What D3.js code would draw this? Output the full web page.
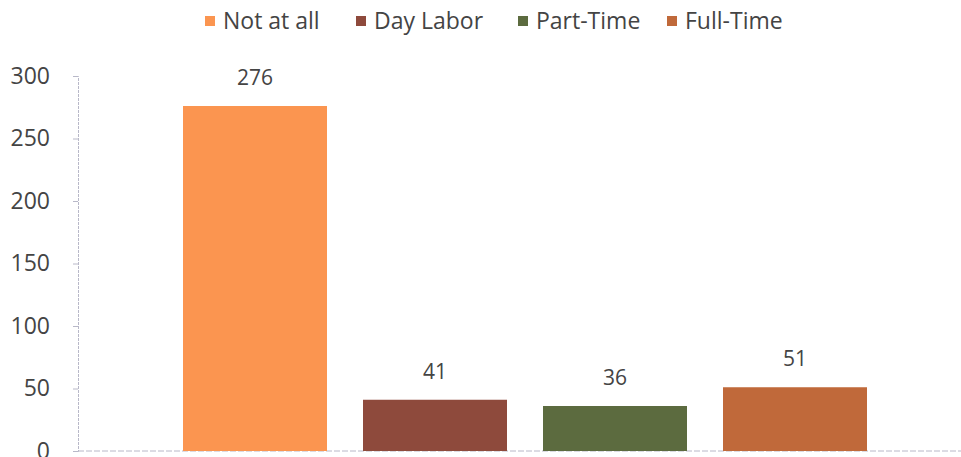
<!DOCTYPE html>
<html>
<head>
<meta charset="utf-8">
<script src="https://cdn.jsdelivr.net/npm/d3@7"></script>
<style>
  body { margin: 0; background: #fff; }
  svg { display: block; font-family: "Open Sans", "Noto Sans", sans-serif; }
</style>
</head>
<body>
<svg id="chart" width="961" height="457"></svg>
<script>
const categories = ['Not at all', 'Day Labor', 'Part-Time', 'Full-Time'];
const values = [276, 41, 36, 51];
const colors = ['#fb9550', '#8e4a3c', '#5c6b3f', '#c0693a'];
const yTicks = [0, 50, 100, 150, 200, 250, 300];

const svg = d3.select('#chart');
const margin = { left: 78, top: 76, bottom: 451 };

const x = d3.scaleBand(categories, [165, 885]).paddingInner(0.2).paddingOuter(0.1);
const y = d3.scaleLinear([0, 300], [margin.bottom, margin.top]);

// y axis
const yAxis = svg.append('g')
    .attr('transform', `translate(${margin.left},0)`)
    .call(d3.axisLeft(y).tickValues(yTicks).tickSize(5).tickPadding(23));
yAxis.select('.domain').attr('stroke', '#b8b8c8').attr('stroke-dasharray', '3,1');
yAxis.selectAll('.tick line').attr('stroke', '#b8b8c8');
yAxis.selectAll('.tick text')
    .attr('font-size', 23).attr('fill', '#444')
    .attr('font-family', '"Open Sans", sans-serif');

// x baseline
svg.append('line')
    .attr('x1', margin.left).attr('x2', 961)
    .attr('y1', y(0)).attr('y2', y(0))
    .attr('stroke', '#b8b8c8').attr('stroke-dasharray', '6,2');

// bars
svg.append('g').selectAll('rect')
    .data(values)
    .join('rect')
    .attr('x', (d, i) => x(categories[i]))
    .attr('y', d => y(d))
    .attr('width', x.bandwidth())
    .attr('height', d => y(0) - y(d))
    .attr('fill', (d, i) => colors[i]);

// value labels
svg.append('g').selectAll('text')
    .data(values)
    .join('text')
    .attr('x', (d, i) => x(categories[i]) + x.bandwidth() / 2)
    .attr('y', d => y(d) - 21)
    .attr('text-anchor', 'middle')
    .attr('font-size', 21)
    .attr('fill', '#444')
    .text(d => d);

// legend
const legendX = [205, 356, 518, 667];
const legend = svg.append('g').selectAll('g')
    .data(categories)
    .join('g')
    .attr('transform', (d, i) => `translate(${legendX[i]},21)`);
legend.append('rect')
    .attr('x', 0).attr('y', -5).attr('width', 10).attr('height', 10)
    .attr('fill', (d, i) => colors[i]);
legend.append('text')
    .attr('x', 18).attr('y', 0).attr('dy', '0.35em')
    .attr('font-size', 23).attr('fill', '#444')
    .text(d => d);
</script>
</body>
</html>
